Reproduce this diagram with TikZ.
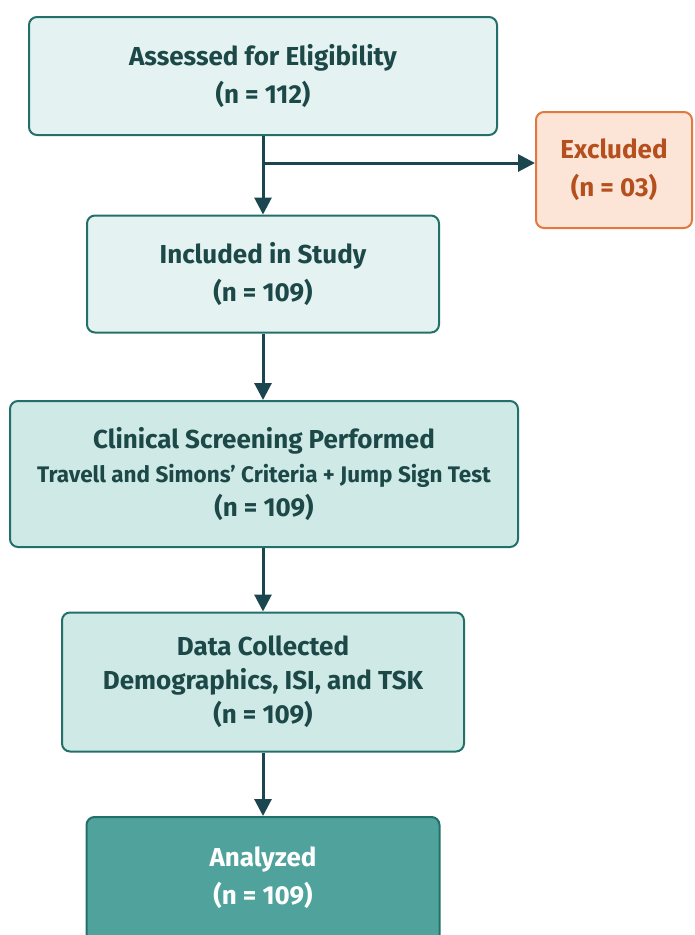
\documentclass[tikz,border=0pt]{standalone}
\usepackage{fontspec}
\setmainfont{Fira Sans}
\usetikzlibrary{arrows.meta}
\definecolor{tealline}{HTML}{23706B}
\definecolor{tealtext}{HTML}{1C4848}
\definecolor{arrowcol}{HTML}{1B4650}
\definecolor{palefill}{HTML}{E4F3F1}
\definecolor{midfill}{HTML}{CFE9E6}
\definecolor{darkfill}{HTML}{4FA39C}
\definecolor{exclfill}{HTML}{FCE4D6}
\definecolor{excldraw}{HTML}{E07A3F}
\definecolor{excltext}{HTML}{B5501E}

\begin{document}
\begin{tikzpicture}[
    x=1pt, y=-1pt,
    stage_box/.style={rectangle, rounded corners=8pt, draw=tealline, line width=2pt,
        fill=palefill, text=tealtext, align=center, font=\fontsize{26}{38}\selectfont\bfseries},
    three_line/.style={stage_box, fill=midfill, font=\fontsize{26}{34}\selectfont\bfseries},
    excl_box/.style={stage_box, draw=excldraw, fill=exclfill, text=excltext},
    final_box/.style={stage_box, fill=darkfill, text=white},
    flow/.style={-{Triangle[length=17pt, width=17pt]}, line width=3pt, draw=arrowcol}
]
    \useasboundingbox (0,0) rectangle (694,935);
    \clip (0,0) rectangle (694,935);
    \node[stage_box, minimum width=468, minimum height=118] (assessed) at (263,76)
        {Assessed for Eligibility\\(n = 112)};
    \node[excl_box, minimum width=156, minimum height=116] (excluded) at (614,170)
        {Excluded\\(n = 03)};
    \node[stage_box, minimum width=352, minimum height=117] (included) at (263,274)
        {Included in Study\\(n = 109)};
    \node[three_line, minimum width=508, minimum height=146] (screening) at (264,474)
        {Clinical Screening Performed\\
         {\fontsize{22.5}{34}\selectfont Travell and Simons’ Criteria + Jump Sign Test}\\(n = 109)};
    \node[three_line, minimum width=402, minimum height=139] (collected) at (263,682)
        {Data Collected\\Demographics, ISI, and TSK\\(n = 109)};
    \node[final_box, minimum width=353, minimum height=150] (analyzed) at (263,892)
        {};
    \node[text=white, align=center, font=\fontsize{26}{38}\selectfont\bfseries] (analyzedtext) at (263,878)
        {Analyzed\\(n = 109)};
    \coordinate (split) at (263,163);
    \draw[flow] (assessed.south) -- (included.north);
    \draw[flow] (split) -- (split -| excluded.west);
    \draw[flow] (included.south) -- (included.south |- screening.north);
    \draw[flow] (collected.north |- screening.south) -- (collected.north);
    \draw[flow] (collected.south) -- (analyzed.north);
\end{tikzpicture}
\end{document}
